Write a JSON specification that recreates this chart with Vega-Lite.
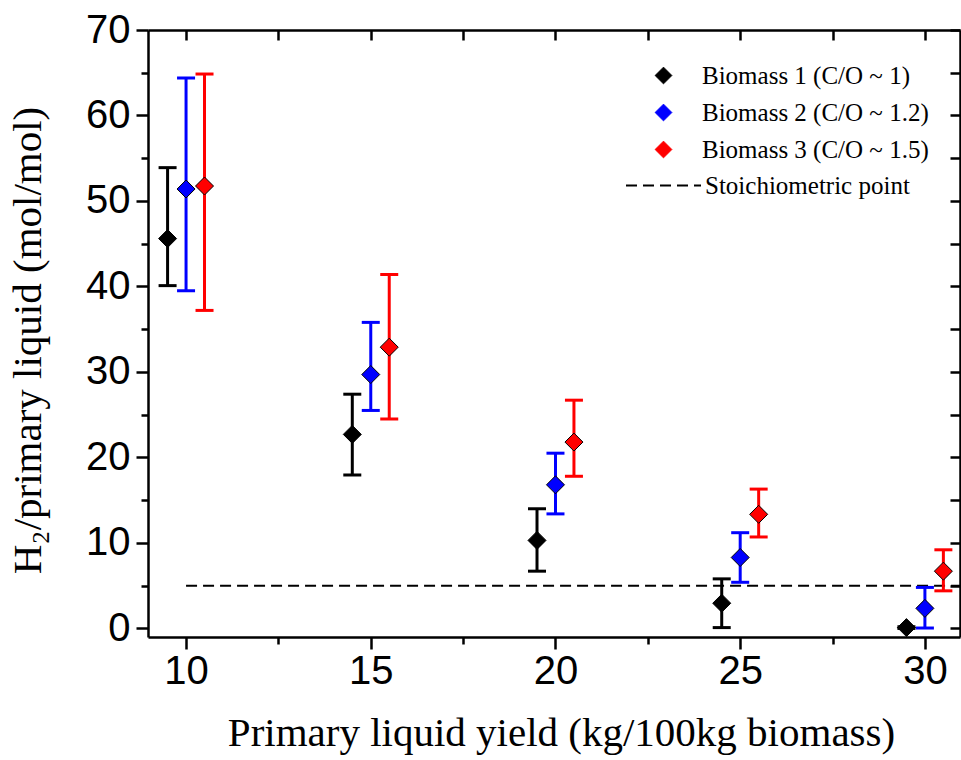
{
  "$schema": "https://vega.github.io/schema/vega-lite/v6.json",
  "width": 812,
  "height": 607,
  "autosize": {"type": "none"},
  "padding": {"left": 148, "top": 30, "right": 1, "bottom": 123},
  "background": "white",
  "config": {
    "view": {"stroke": null},
    "axis": {
      "domainColor": "black", "domainWidth": 2.5, "tickColor": "black", "tickWidth": 2.5,
      "labelFont": "Liberation Sans", "labelFontSize": 40, "labelColor": "black",
      "titleFont": "Liberation Serif", "titleFontWeight": "normal", "titleColor": "black", "grid": false
    },
    "legend": {"labelFont": "Liberation Serif", "labelFontSize": 25, "labelColor": "black", "labelLimit": 0}
  },
  "data": {
    "values": [
      {"x": 9.5, "y": 45.6, "lo": 40.1, "hi": 53.9, "s": "Biomass 1 (C/O ~ 1)"},
      {"x": 10, "y": 51.4, "lo": 39.5, "hi": 64.4, "s": "Biomass 2 (C/O ~ 1.2)"},
      {"x": 10.5, "y": 51.75, "lo": 37.2, "hi": 64.85, "s": "Biomass 3 (C/O ~ 1.5)"},
      {"x": 14.5, "y": 22.7, "lo": 17.95, "hi": 27.4, "s": "Biomass 1 (C/O ~ 1)"},
      {"x": 15, "y": 29.7, "lo": 25.5, "hi": 35.8, "s": "Biomass 2 (C/O ~ 1.2)"},
      {"x": 15.5, "y": 32.9, "lo": 24.5, "hi": 41.4, "s": "Biomass 3 (C/O ~ 1.5)"},
      {"x": 19.5, "y": 10.3, "lo": 6.7, "hi": 14.0, "s": "Biomass 1 (C/O ~ 1)"},
      {"x": 20, "y": 16.8, "lo": 13.4, "hi": 20.5, "s": "Biomass 2 (C/O ~ 1.2)"},
      {"x": 20.5, "y": 21.8, "lo": 17.8, "hi": 26.7, "s": "Biomass 3 (C/O ~ 1.5)"},
      {"x": 24.5, "y": 2.95, "lo": 0.1, "hi": 5.8, "s": "Biomass 1 (C/O ~ 1)"},
      {"x": 25, "y": 8.3, "lo": 5.4, "hi": 11.2, "s": "Biomass 2 (C/O ~ 1.2)"},
      {"x": 25.5, "y": 13.35, "lo": 10.7, "hi": 16.3, "s": "Biomass 3 (C/O ~ 1.5)"},
      {"x": 29.5, "y": 0.1, "lo": 0.0, "hi": 0.2, "s": "Biomass 1 (C/O ~ 1)"},
      {"x": 30, "y": 2.35, "lo": 0.05, "hi": 4.8, "s": "Biomass 2 (C/O ~ 1.2)"},
      {"x": 30.5, "y": 6.7, "lo": 4.4, "hi": 9.2, "s": "Biomass 3 (C/O ~ 1.5)"}
    ]
  },
  "layer": [
    {
      "data": {"values": [{"x": 10, "x2": 30.95, "y": 5, "k": "Stoichiometric point"}]},
      "mark": {"type": "rule", "strokeWidth": 2, "color": "black"},
      "encoding": {
        "x": {"field": "x", "type": "quantitative", "scale": {"domain": [8.97, 30.95], "nice": false, "zero": false},
          "axis": {"orient": "bottom", "values": [10, 12.5, 15, 17.5, 20, 22.5, 25, 27.5, 30],
            "labelExpr": "datum.value % 5 === 0 ? datum.label : ''",
            "tickSize": {"condition": {"test": "datum.value % 5 === 0", "value": 12}, "value": 7},
            "labelPadding": 2, "title": "Primary liquid yield (kg/100kg biomass)", "titleFontSize": 41, "titlePadding": 22, "titleX": 413}},
        "x2": {"field": "x2"},
        "y": {"field": "y", "type": "quantitative", "scale": {"domain": [-1, 70], "nice": false, "zero": false},
          "axis": {"orient": "left", "values": [0, 5, 10, 15, 20, 25, 30, 35, 40, 45, 50, 55, 60, 65, 70],
            "labelExpr": "datum.value % 10 === 0 ? datum.label : ''",
            "tickSize": {"condition": {"test": "datum.value % 10 === 0", "value": 12}, "value": 7},
            "labelPadding": 6, "title": "H₂/primary liquid (mol/mol)", "titleFontSize": 41, "titlePadding": 36, "titleY": 310}},
        "strokeDash": {"field": "k", "type": "nominal",
          "scale": {"domain": ["Stoichiometric point"], "range": [[11, 6]]},
          "legend": {"title": null, "orient": "none", "legendX": 477, "legendY": 117, "symbolType": "stroke",
            "symbolSize": 5625, "symbolStrokeWidth": 2, "symbolStrokeColor": "black", "labelOffset": 3}}
      }
    },
    {
      "mark": {"type": "rule", "strokeWidth": 3, "opacity": 1},
      "encoding": {
        "x": {"field": "x", "type": "quantitative",
          "axis": {"orient": "top", "values": [10, 12.5, 15, 17.5, 20, 22.5, 25, 27.5, 30], "labels": false, "tickSize": -10, "title": null}},
        "y": {"field": "lo", "type": "quantitative",
          "axis": {"orient": "right", "values": [0, 5, 10, 15, 20, 25, 30, 35, 40, 45, 50, 55, 60, 65, 70], "labels": false, "tickSize": -10, "title": null}},
        "y2": {"field": "hi"},
        "color": {"field": "s", "type": "nominal"}
      }
    },
    {
      "mark": {"type": "tick", "orient": "horizontal", "size": 18, "thickness": 3, "opacity": 1},
      "encoding": {
        "x": {"field": "x", "type": "quantitative", "axis": null},
        "y": {"field": "hi", "type": "quantitative", "axis": null},
        "color": {"field": "s", "type": "nominal"}
      }
    },
    {
      "mark": {"type": "tick", "orient": "horizontal", "size": 18, "thickness": 3, "opacity": 1},
      "encoding": {
        "x": {"field": "x", "type": "quantitative", "axis": null},
        "y": {"field": "lo", "type": "quantitative", "axis": null},
        "color": {"field": "s", "type": "nominal"}
      }
    },
    {
      "mark": {"type": "point", "shape": "diamond", "size": 324, "filled": true, "stroke": "black", "strokeWidth": 1, "opacity": 1},
      "encoding": {
        "x": {"field": "x", "type": "quantitative", "axis": null},
        "y": {"field": "y", "type": "quantitative", "axis": null},
        "color": {"field": "s", "type": "nominal",
          "scale": {"domain": ["Biomass 1 (C/O ~ 1)", "Biomass 2 (C/O ~ 1.2)", "Biomass 3 (C/O ~ 1.5)"], "range": ["#000000", "#0000ff", "#ff0000"]},
          "legend": {"title": null, "orient": "none", "legendX": 503, "legendY": 33, "symbolType": "diamond", "symbolSize": 280,
            "symbolStrokeColor": "black", "symbolStrokeWidth": 1, "symbolOpacity": 1, "labelOffset": 26, "rowPadding": 11,
            "encode": {"symbols": {"update": {"stroke": {"value": "black"}, "strokeWidth": {"value": 1}}}}}}
      }
    }
  ],
  "resolve": {"axis": {"x": "independent", "y": "independent"}}
}
